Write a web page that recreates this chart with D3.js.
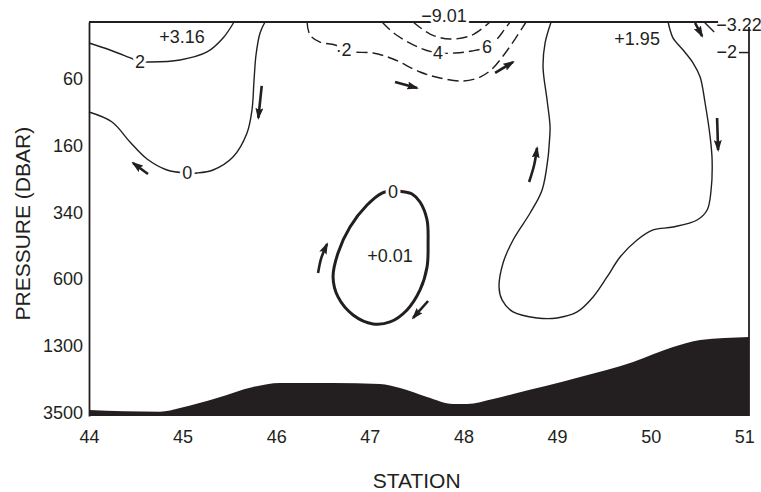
<!DOCTYPE html>
<html>
<head>
<meta charset="utf-8">
<script src="https://cdn.jsdelivr.net/npm/d3@7"></script>
<style>
  body { margin: 0; background: #fff; }
  svg { font-family: "Liberation Sans", Arial, sans-serif; }
  .axis text { font-size: 18px; fill: #231f20; }
  .halo { paint-order: stroke; stroke: #fff; stroke-width: 6px; stroke-linejoin: round; }
</style>
</head>
<body>
<svg width="761" height="492"></svg>
<script>
/* stations along the section and pressure levels (evenly spaced on the plot) */
var stations = [44, 45, 46, 47, 48, 49, 50, 51];
var pressureLabels = ["60", "160", "340", "600", "1300", "3500"];

/* contours: [station, pressure level index] */
var contourPlus2 = [[44.000,-0.536],[44.224,-0.431],[44.470,-0.296],[44.545,-0.258],[44.652,-0.251],
  [44.972,-0.281],[45.261,-0.401],[45.432,-0.610],[45.549,-0.850]];
var contourZeroWest = [[44.000,0.498],[44.246,0.647],[44.438,0.947],[44.620,1.202],[44.833,1.366],
  [45.047,1.411],[45.154,1.411],[45.325,1.366],[45.538,1.172],[45.688,0.812],[45.741,0.468],
  [45.763,0.019],[45.784,-0.356],[45.827,-0.685],[45.880,-0.850]];
var contourMinus2 = [[46.329,-0.850],[46.361,-0.655],[46.468,-0.550],[46.628,-0.506],[46.735,-0.431],
  [46.821,-0.401],[47.034,-0.386],[47.248,-0.296],[47.536,-0.101],[47.750,-0.011],[47.996,0.034],
  [48.177,-0.026],[48.305,-0.146],[48.423,-0.341],[48.551,-0.595],[48.669,-0.850]];
var contourMinus4 = [[47.130,-0.850],[47.269,-0.670],[47.536,-0.461],[47.729,-0.386],[47.910,-0.386],
  [48.092,-0.416],[48.252,-0.476],[48.359,-0.595],[48.434,-0.730],[48.498,-0.850]];
var contourMinus6 = [[47.462,-0.850],[47.643,-0.670],[47.857,-0.595],[48.092,-0.655],[48.284,-0.850]];
var contourZeroEast = [[48.936,-0.850],[48.872,-0.536],[48.850,-0.176],[48.893,0.318],[48.925,0.722],
  [48.915,0.992],[48.904,1.172],[48.840,1.666],[48.712,2.010],[48.530,2.414],[48.423,2.759],
  [48.380,3.118],[48.412,3.312],[48.530,3.492],[48.786,3.582],[49.000,3.582],[49.214,3.492],
  [49.385,3.267],[49.534,2.968],[49.673,2.669],[49.855,2.414],[50.026,2.264],[50.239,2.220],
  [50.496,2.115],[50.603,1.965],[50.645,1.666],[50.656,1.217],[50.635,0.872],[50.581,0.363],
  [50.528,-0.026],[50.453,-0.236],[50.346,-0.430],[50.239,-0.610],[50.207,-0.730],[50.186,-0.850]];
var contourMinus2East = [[50.571,-0.850],[50.624,-0.775],[50.678,-0.700]];
var eddyLoop = [[47.376,1.696],[47.451,1.726],[47.536,1.846],[47.611,2.115],[47.622,2.460],
  [47.611,2.819],[47.536,3.163],[47.397,3.462],[47.216,3.642],[47.034,3.672],[46.821,3.537],
  [46.660,3.267],[46.607,2.968],[46.660,2.609],[46.788,2.220],[46.970,1.891],[47.130,1.711],[47.248,1.681]];

/* bottom topography */
var seafloor = [[44.000,4.960],[44.759,4.986],[44.972,4.930],[45.368,4.780],[45.752,4.615],
  [46.041,4.555],[46.607,4.555],[47.109,4.570],[47.323,4.630],[47.611,4.765],[47.889,4.870],
  [48.038,4.870],[48.316,4.795],[48.530,4.720],[49.246,4.466],[49.812,4.241],[50.239,4.016],
  [50.528,3.911],[51.050,3.866]];

/* flow arrows, last point is the head */
var arrows = [
  [[45.845,0.108],[45.809,0.587]],
  [[44.630,1.426],[44.470,1.261]],
  [[47.269,0.049],[47.504,0.138]],
  [[48.338,-0.087],[48.530,-0.251]],
  [[46.447,2.909],[46.480,2.690],[46.543,2.475]],
  [[47.622,3.328],[47.462,3.582]],
  [[48.701,1.546],[48.755,1.291],[48.786,1.037]],
  [[50.709,0.588],[50.720,1.067]],
  [[50.474,-0.835],[50.549,-0.640]]
];

/* contour labels and extreme values */
var labelText = ["+3.16", "2", "0", "\u00b72", "4", "6", "\u22129.01", "+1.95", "\u22123.22", "0", "+0.01"];
var labelStation = [44.994, 44.545, 45.050, 46.720, 47.729, 48.252, 47.793, 49.855, 50.944, 47.248, 47.216];
var labelLevel = [-0.625, -0.258, 1.411, -0.431, -0.386, -0.476, -0.940, -0.595, -0.805, 1.696, 2.655];
var labelHalo = [false, true, true, true, true, true, true, false, false, true, false];

var ink = "#231f20";
var svg = d3.select("svg");

var x = d3.scaleLinear().domain([44, 51.05]).range([89, 749]);
var y = d3.scaleLinear().domain([-0.85, 5.05]).range([22, 416]);

var defs = svg.append("defs");
defs.append("marker")
    .attr("id", "head")
    .attr("viewBox", "0 0 12 8")
    .attr("refX", 10)
    .attr("refY", 4)
    .attr("markerWidth", 12)
    .attr("markerHeight", 8)
    .attr("markerUnits", "userSpaceOnUse")
    .attr("orient", "auto")
  .append("path")
    .attr("d", "M0,0L12,4L0,8L2,4z")
    .attr("fill", ink);

/* seafloor */
var area = d3.area()
    .x(function(d) { return x(d[0]); })
    .y0(y(5.05))
    .y1(function(d) { return y(d[1]); })
    .curve(d3.curveMonotoneX);

svg.append("path")
    .datum(seafloor)
    .attr("d", area)
    .attr("fill", ink);

/* contours */
var line = d3.line()
    .x(function(d) { return x(d[0]); })
    .y(function(d) { return y(d[1]); })
    .curve(d3.curveCatmullRom.alpha(0.5));

var thin = [contourPlus2, contourZeroWest, contourZeroEast, contourMinus2East];
svg.append("g").selectAll("path")
    .data(thin)
    .enter().append("path")
      .attr("d", line)
      .attr("fill", "none")
      .attr("stroke", ink)
      .attr("stroke-width", 1.4);

svg.append("g").selectAll("path")
    .data([contourMinus2, contourMinus4, contourMinus6])
    .enter().append("path")
      .attr("d", line)
      .attr("fill", "none")
      .attr("stroke", ink)
      .attr("stroke-width", 1.4)
      .attr("stroke-dasharray", "11,5");

svg.append("path")
    .datum(eddyLoop)
    .attr("d", line.curve(d3.curveCatmullRomClosed.alpha(0.5)))
    .attr("fill", "none")
    .attr("stroke", ink)
    .attr("stroke-width", 3);

line.curve(d3.curveCatmullRom.alpha(0.5));

/* arrows */
svg.append("g").selectAll("path")
    .data(arrows)
    .enter().append("path")
      .attr("d", line)
      .attr("fill", "none")
      .attr("stroke", ink)
      .attr("stroke-width", 2.6)
      .attr("marker-end", "url(#head)");

/* frame */
var frame = svg.append("g").attr("stroke", ink).attr("stroke-width", 1.8);
frame.append("line")
    .attr("x1", x(44)).attr("x2", x(50.72))
    .attr("y1", y(-0.85)).attr("y2", y(-0.85));
frame.append("line")
    .attr("x1", x(51.05)).attr("x2", x(51.05))
    .attr("y1", y(-0.775)).attr("y2", y(5.05));

/* axes */
var yAxis = svg.append("g")
    .attr("class", "axis")
    .attr("transform", "translate(" + x(44) + ",0)")
    .call(d3.axisLeft(y).tickValues(d3.range(pressureLabels.length))
      .tickFormat(function(i) { return pressureLabels[i]; })
      .tickSize(0).tickSizeOuter(0).tickPadding(6));
yAxis.select(".domain").attr("stroke", ink).attr("stroke-width", 1.8);

svg.append("g")
    .attr("class", "axis")
    .attr("transform", "translate(0," + y(5.05) + ")")
    .call(d3.axisBottom(x).tickValues(stations).tickFormat(d3.format("d"))
      .tickSize(0).tickPadding(14))
    .select(".domain").remove();

/* the -2 mark on the right edge */
var rAxis = svg.append("g")
    .attr("class", "axis")
    .attr("transform", "translate(" + x(51.05) + ",0)")
    .call(d3.axisLeft(y).tickValues([-0.40]).tickFormat(function() { return "\u22122"; })
      .tickSize(10).tickSizeOuter(0).tickPadding(2));
rAxis.select(".domain").remove();
rAxis.selectAll("line").attr("stroke", ink).attr("stroke-width", 1.5);

/* labels */
svg.append("g").selectAll("text")
    .data(labelText)
    .enter().append("text")
      .attr("class", function(d, i) { return labelHalo[i] ? "halo" : null; })
      .attr("x", function(d, i) { return x(labelStation[i]); })
      .attr("y", function(d, i) { return y(labelLevel[i]); })
      .attr("dy", "0.35em")
      .attr("text-anchor", "middle")
      .attr("font-size", 18)
      .attr("fill", ink)
      .text(function(d) { return d; });

svg.append("text")
    .attr("transform", "translate(23," + y(2.17) + ") rotate(-90)")
    .attr("dy", "0.35em")
    .attr("text-anchor", "middle")
    .attr("font-size", 21)
    .attr("fill", ink)
    .text("PRESSURE (DBAR)");

svg.append("text")
    .attr("x", x(47.5))
    .attr("y", 481)
    .attr("dy", "0.35em")
    .attr("text-anchor", "middle")
    .attr("font-size", 21)
    .attr("fill", ink)
    .text("STATION");
</script>
</body>
</html>
